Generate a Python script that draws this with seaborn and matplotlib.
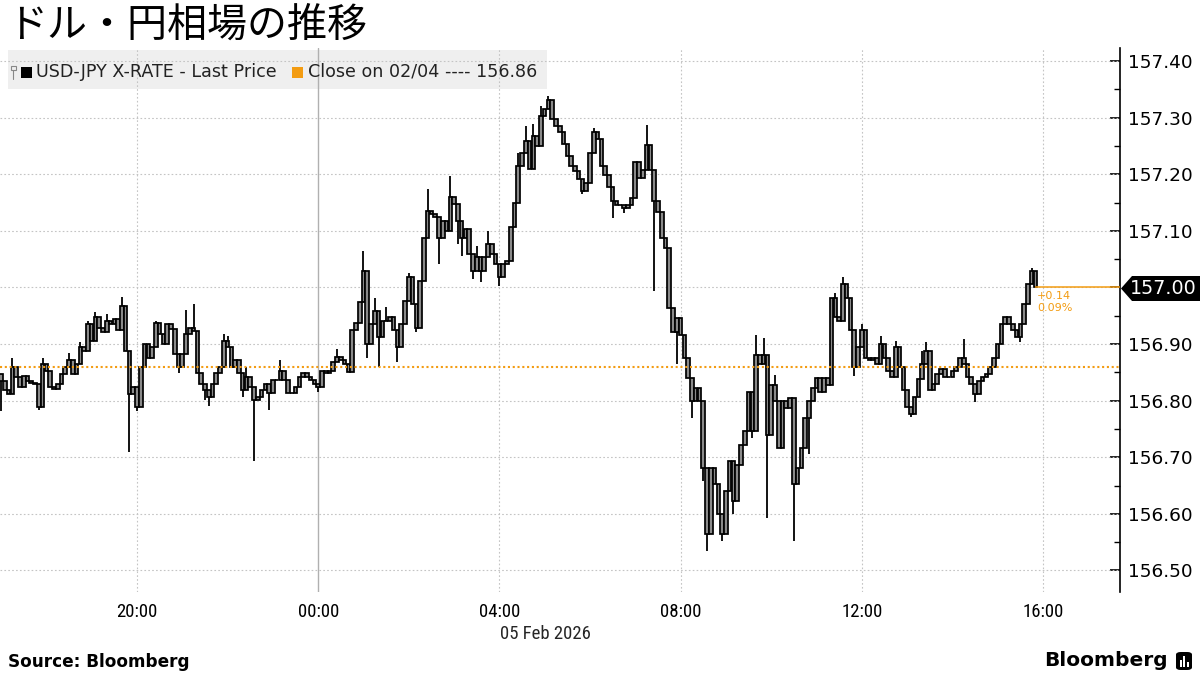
import numpy as np
import pandas as pd
import matplotlib
matplotlib.use("Agg")
import matplotlib.pyplot as plt
from matplotlib.patches import Rectangle, Polygon, FancyBboxPatch
import seaborn as sns

sns.set_theme(style="white")
plt.rcParams['font.family'] = ['DejaVu Sans', 'Noto Sans CJK JP']

title = "ドル・円相場の推移"
series_name = "USD-JPY X-RATE - Last Price"
close_name = "Close on 02/04"
start_time = "2026-02-04 17:00"
first_open = 156.847
prev_close = 156.86

# 5-minute closes, one row per hour starting 17:00 (04 Feb)
closes = [
    156.835, 156.818, 156.812, 156.859, 156.841, 156.824, 156.844, 156.835, 156.832, 156.829, 156.788, 156.865,
    156.853, 156.824, 156.821, 156.829, 156.847, 156.859, 156.871, 156.847, 156.865, 156.894, 156.888, 156.935,
    156.906, 156.947, 156.929, 156.921, 156.941, 156.935, 156.944, 156.924, 156.968, 156.888, 156.812, 156.824,
    156.788, 156.859, 156.900, 156.876, 156.894, 156.938, 156.918, 156.900, 156.935, 156.927, 156.883, 156.859,
    156.883, 156.917, 156.929, 156.923, 156.848, 156.830, 156.819, 156.807, 156.830, 156.848, 156.859, 156.906,
    156.894, 156.859, 156.871, 156.848, 156.819, 156.842, 156.824, 156.801, 156.807, 156.819, 156.830, 156.813,
    156.836, 156.836, 156.853, 156.836, 156.813, 156.813, 156.824, 156.842, 156.848, 156.842, 156.836, 156.830,
    156.824, 156.853, 156.848, 156.853, 156.868, 156.877, 156.871, 156.865, 156.851, 156.924, 156.938, 156.974,
    157.029, 156.900, 156.935, 156.959, 156.912, 156.941, 156.941, 156.947, 156.924, 156.894, 156.935, 156.976,
    157.018, 156.971, 156.929, 157.012, 157.088, 157.135, 157.129, 157.124, 157.088, 157.118, 157.100, 157.159,
    157.147, 157.118, 157.088, 157.103, 157.059, 157.029, 157.053, 157.029, 157.053, 157.076, 157.059, 157.041,
    157.018, 157.041, 157.047, 157.106, 157.150, 157.215, 157.238, 157.259, 157.209, 157.268, 157.250, 157.303,
    157.315, 157.332, 157.297, 157.285, 157.274, 157.253, 157.232, 157.215, 157.206, 157.191, 157.171, 157.185,
    157.238, 157.274, 157.262, 157.214, 157.199, 157.178, 157.152, 157.146, 157.146, 157.140, 157.146, 157.158,
    157.222, 157.193, 157.208, 157.252, 157.208, 157.152, 157.134, 157.087, 157.069, 156.964, 156.922, 156.946,
    156.916, 156.875, 156.840, 156.799, 156.822, 156.799, 156.681, 156.564, 156.681, 156.652, 156.599, 156.564,
    156.640, 156.693, 156.622, 156.687, 156.722, 156.746, 156.816, 156.746, 156.881, 156.864, 156.881, 156.740,
    156.828, 156.799, 156.716, 156.799, 156.787, 156.805, 156.652, 156.681, 156.716, 156.769, 156.799, 156.822,
    156.840, 156.816, 156.840, 156.828, 156.982, 156.947, 156.941, 157.006, 156.982, 156.924, 156.859, 156.894,
    156.924, 156.876, 156.871, 156.876, 156.865, 156.900, 156.876, 156.853, 156.841, 156.894, 156.859, 156.818,
    156.788, 156.776, 156.806, 156.838, 156.865, 156.888, 156.818, 156.829, 156.847, 156.856, 156.841, 156.841,
    156.853, 156.859, 156.876, 156.865, 156.841, 156.829, 156.812, 156.835, 156.841, 156.847, 156.859, 156.876,
    156.900, 156.935, 156.947, 156.935, 156.924, 156.912, 156.935, 156.971, 157.006, 157.029, 157.000,
]

# bars whose wicks stick out beyond the body
wick_high = {
    "17:15": 156.876, "17:55": 156.876, "18:30": 156.885, "18:45": 156.903, "18:55": 156.941,
    "19:05": 156.956, "19:20": 156.953, "19:40": 156.984, "20:25": 156.941, "21:05": 156.961,
    "21:15": 156.970, "21:55": 156.917, "22:00": 156.915, "22:25": 156.859, "23:10": 156.871,
    "00:25": 156.891, "01:00": 157.065, "01:15": 156.982, "01:30": 156.965, "02:00": 157.026,
    "02:25": 157.174, "02:55": 157.197, "03:30": 157.074, "03:45": 157.100, "04:25": 157.238,
    "04:35": 157.285, "04:45": 157.288, "04:55": 157.321, "05:05": 157.338, "06:05": 157.282,
    "06:15": 157.240, "07:05": 157.219, "07:15": 157.287, "09:40": 156.916, "09:50": 156.911,
    "10:05": 156.846, "11:25": 156.991, "11:35": 157.018, "12:00": 156.935, "12:25": 156.915,
    "12:45": 156.906, "13:20": 156.888, "13:25": 156.903, "14:15": 156.909, "15:45": 157.035,
}
wick_low = {
    "17:00": 156.782, "17:50": 156.783, "19:50": 156.710, "20:00": 156.782, "20:55": 156.848,
    "21:30": 156.801, "21:35": 156.790, "22:20": 156.807, "22:35": 156.694, "22:55": 156.784,
    "00:00": 156.816, "01:05": 156.876, "01:20": 156.859, "01:45": 156.868, "02:10": 156.921,
    "02:40": 157.041, "03:05": 157.076, "03:10": 157.056, "03:25": 157.015, "03:35": 157.009,
    "04:00": 157.003, "05:50": 157.165, "06:30": 157.122, "06:45": 157.131, "07:25": 156.993,
    "07:55": 156.864, "08:15": 156.769, "08:30": 156.658, "08:35": 156.534, "08:55": 156.552,
    "09:10": 156.599, "09:35": 156.734, "09:55": 156.593, "10:30": 156.552, "10:50": 156.705,
    "11:50": 156.844, "13:05": 156.771, "14:30": 156.797, "15:30": 156.903,
}

tick_times = ["2026-02-04 20:00", "2026-02-05 00:00", "2026-02-05 04:00",
              "2026-02-05 08:00", "2026-02-05 12:00", "2026-02-05 16:00"]
tick_labels = ["20:00", "00:00", "04:00", "08:00", "12:00", "16:00"]
date_label = "05 Feb 2026"
y_ticks = [156.50, 156.60, 156.70, 156.80, 156.90, 157.00, 157.10, 157.20, 157.30, 157.40]

ORANGE = "#f39c12"
NARROW = ['Liberation Sans Narrow', 'Roboto Condensed', 'DejaVu Sans']
day0 = pd.Timestamp("2026-02-05")
times = pd.date_range(start_time, periods=len(closes), freq="5min")
df = pd.DataFrame({
    "hour": (times - day0) / pd.Timedelta(hours=1),
    "time": times.strftime("%H:%M"),
    "close": closes,
})
df["open"] = df["close"].shift(1).fillna(first_open)
df["body"] = df["close"] - df["open"]
df["high"] = np.fmax(df[["open", "close"]].max(axis=1), df["time"].map(wick_high))
df["low"] = np.fmin(df[["open", "close"]].min(axis=1), df["time"].map(wick_low))
tick_pos = [(pd.Timestamp(t) - day0) / pd.Timedelta(hours=1) for t in tick_times]

W, H = 1200, 675
fig = plt.figure(figsize=(12, 6.75), dpi=100)
ax = fig.add_axes([0, 1 - 592 / H, 1120 / W, 544 / H])
ax.patch.set_alpha(0)
xmin, xmax = -7.024, 17.70
ymin, ymax = 156.462, 157.423

# wicks, then bodies
ax.vlines(df["hour"], df["low"], df["high"], colors="black", lw=1.3, zorder=2)
sns.barplot(data=df, x="hour", y="body", bottom=df["open"].values, native_scale=True,
            width=0.95, color="#8a8a8a", saturation=1, edgecolor="black", linewidth=1.25,
            errorbar=None, zorder=3, ax=ax)

ax.axhline(prev_close, color=ORANGE, ls=(0, (1, 1.3)), lw=1.5, zorder=4)
ax.hlines(closes[-1], df["hour"].iloc[-1], xmax, color=ORANGE, lw=1.1, zorder=4)

chg = closes[-1] - prev_close
ax.text(df["hour"].iloc[-1] + 0.03, closes[-1] - 0.006, f"{chg:+.2f}\n{chg / prev_close * 100:.2f}%",
        color=ORANGE, fontsize=8, va="top", ha="left", linespacing=1.25, zorder=5)

for t in tick_pos:
    if t == 0:
        ax.axvline(t, color="#b0b0b0", lw=1.0, zorder=1)
    else:
        ax.axvline(t, color="#c4c4c4", lw=0.8, ls=(0, (1.5, 2)), zorder=1)
for v in y_ticks:
    ax.axhline(v, color="#c4c4c4", lw=0.8, ls=(0, (1.5, 2)), zorder=1)

ax.set_xlim(xmin, xmax)
ax.set_ylim(ymin, ymax)
ax.set_xlabel("")
ax.set_ylabel("")
ax.set_xticks(tick_pos, tick_labels)
ax.yaxis.tick_right()
# the last-price tag stands in for the label at the last price
ax.set_yticks(y_ticks, ["" if abs(v - closes[-1]) < 1e-9 else f"{v:.2f}" for v in y_ticks])
ax.yaxis.set_minor_locator(matplotlib.ticker.MultipleLocator(0.05))
ax.tick_params(axis="y", which="major", direction="in", length=7, width=1.2,
               color="black", pad=6, labelsize=13.3, labelcolor="black")
ax.tick_params(axis="y", which="minor", direction="in", length=4, width=1.0,
               color="black", right=True)
ax.tick_params(axis="x", length=0, pad=8, labelsize=13.5, labelcolor="black")
for lab in ax.get_xticklabels():
    lab.set_family(NARROW)
for side in ["left", "top", "bottom"]:
    ax.spines[side].set_visible(False)
ax.spines["right"].set_color("black")
ax.spines["right"].set_linewidth(1.2)
ax.grid(False)

def fx(px):
    return px / W

def fy(py):
    return 1 - py / H

# legend strip
fig.patches.append(Rectangle((fx(8), fy(89)), fx(539), 39 / H, transform=fig.transFigure,
                             facecolor="#efefef", edgecolor="none", zorder=-1))
fig.lines.append(plt.Line2D([fx(13), fx(13)], [fy(70), fy(79)], transform=fig.transFigure,
                            color="#888888", lw=0.8))
fig.patches.append(Rectangle((fx(10.5), fy(70)), fx(5), 4 / H, transform=fig.transFigure,
                             facecolor="none", edgecolor="#888888", lw=0.8))
fig.patches.append(Rectangle((fx(20.5), fy(77.5)), fx(11), 11 / H, transform=fig.transFigure,
                             facecolor="black", edgecolor="none"))
fig.text(fx(36), fy(72), series_name, fontsize=12.6, va="center", ha="left", color="#222222")
fig.patches.append(Rectangle((fx(292), fy(77.5)), fx(11), 11 / H, transform=fig.transFigure,
                             facecolor=ORANGE, edgecolor="none"))
fig.text(fx(308), fy(72), f"{close_name} ---- {prev_close:.2f}", fontsize=12.6,
         va="center", ha="left", color="#222222")

# last price tag
fig.patches.append(Polygon([(fx(1121), fy(288.5)), (fx(1132), fy(276)), (fx(1200), fy(276)),
                            (fx(1200), fy(301)), (fx(1132), fy(301))], closed=True,
                           transform=fig.transFigure, facecolor="black", edgecolor="none", zorder=10))
fig.text(fx(1163), fy(288.5), f"{closes[-1]:.2f}", color="white", fontsize=13.8,
         ha="center", va="center", zorder=11)

fig.text(fx(7), fy(26), title, fontsize=28.8, va="center", ha="left",
         family=['Noto Sans CJK JP', 'DejaVu Sans'], color="black")
fig.text(fx(545), fy(634), date_label, fontsize=13.5, ha="center", va="center", family=NARROW)
fig.text(fx(8), fy(662), "Source: Bloomberg", fontsize=12.2, fontweight="bold",
         va="center", ha="left", color="black")
fig.text(fx(1168), fy(661), "Bloomberg", fontsize=14.5, fontweight="bold",
         va="center", ha="right", color="black")
fig.patches.append(FancyBboxPatch((fx(1176), fy(670)), fx(16), 18 / H,
                                  boxstyle="round,pad=0,rounding_size=0.004",
                                  transform=fig.transFigure, facecolor="black", edgecolor="none"))
for bx, bh in [(1179.5, 7), (1183, 11), (1186.5, 5)]:
    fig.patches.append(Rectangle((fx(bx), fy(667)), fx(2), bh / H, transform=fig.transFigure,
                                 facecolor="white", edgecolor="none"))

fig.savefig("out.png", dpi=100)
